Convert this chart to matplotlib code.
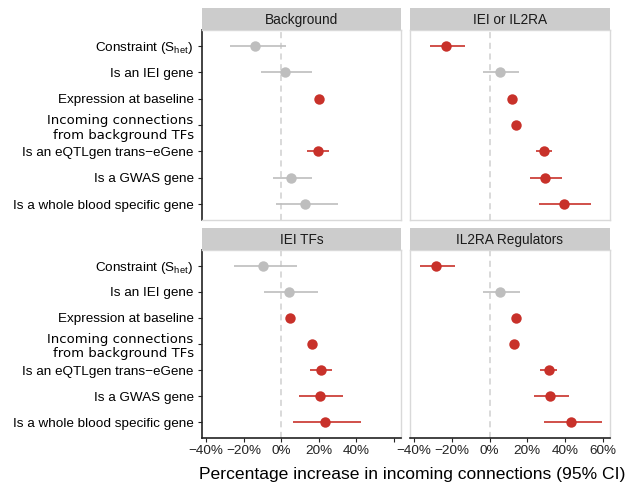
import matplotlib.pyplot as plt
import numpy as np

plt.rcParams['font.family'] = ['Liberation Sans', 'DejaVu Sans']
plt.rcParams['mathtext.default'] = 'regular'

# rows of every facet, top to bottom
categories = ["Constraint (S$_{het}$) ", "Is an IEI gene", "Expression at baseline",
              "Incoming connections\nfrom background TFs", "Is an eQTLgen trans\u2212eGene",
              "Is a GWAS gene", "Is a whole blood specific gene"]
panels = ["Background", "IEI or IL2RA", "IEI TFs", "IL2RA Regulators"]

nan = np.nan
# percentage increase and 95% CI, one set per facet
background_est = [-13.8, 1.9, 20.3, nan, 19.4, 5.3, 12.7]
background_lo = [-27.4, -10.6, 19.4, nan, 13.5, -4.4, -2.6]
background_hi = [2.3, 16.2, 21.2, nan, 25.2, 16.2, 30.3]

iei_il2ra_est = [-23.1, 5.3, 11.9, 13.8, 28.6, 29.2, 39.3]
iei_il2ra_lo = [-31.8, -3.5, 11.0, 12.9, 24.4, 21.2, 26.2]
iei_il2ra_hi = [-13.3, 15.4, 12.8, 14.7, 33.1, 38.4, 53.9]

iei_tfs_est = [-9.7, 4.4, 4.9, 16.4, 21.2, 20.8, 23.3]
iei_tfs_lo = [-25.1, -9.2, 4.0, 15.4, 15.3, 9.3, 6.1]
iei_tfs_hi = [8.5, 19.4, 5.8, 17.4, 27.3, 33.1, 42.3]

il2ra_reg_est = [-28.3, 5.7, 14.2, 13.1, 31.3, 32.2, 43.3]
il2ra_reg_lo = [-37.1, -3.7, 13.3, 12.2, 26.9, 23.3, 29.0]
il2ra_reg_hi = [-18.2, 16.3, 15.1, 14.0, 35.7, 41.9, 59.3]

xticks = [-40, -20, 0, 20, 40, 60]

data = [(background_est, background_lo, background_hi),
        (iei_il2ra_est, iei_il2ra_lo, iei_il2ra_hi),
        (iei_tfs_est, iei_tfs_lo, iei_tfs_hi),
        (il2ra_reg_est, il2ra_reg_lo, il2ra_reg_hi)]

red = '#C8312A'
grey = '#BEBEBE'
border = '#D9D9D9'

fig = plt.figure(figsize=(6.32, 4.84), dpi=100)
W, H = 632, 484

# panel boxes in pixels: (left, top, right, bottom)
boxes = [(202, 30, 401, 220), (410, 30, 610, 220),
         (202, 250, 401, 438), (410, 250, 610, 438)]
strip_h = 22

y = np.arange(len(categories))
for i, (name, (est, lo, hi)) in enumerate(zip(panels, data)):
    l, t, r, b = boxes[i]
    ax = fig.add_axes([l / W, (H - b) / H, (r - l) / W, (b - t) / H])
    est = np.array(est); lo = np.array(lo); hi = np.array(hi)
    sig = (lo > 0) | (hi < 0)
    cols = [red if s else grey for s in sig]

    ax.axvline(0, color='#D0D0D0', lw=1.1, ls=(0, (4, 3)), zorder=1)
    for k in range(len(y)):
        if np.isnan(est[k]):
            continue
        ax.plot([lo[k], hi[k]], [y[k], y[k]], color=cols[k], lw=1.2, zorder=2,
                solid_capstyle='butt')
        ax.plot(est[k], y[k], 'o', color=cols[k], ms=7.5, mec='none', zorder=3)

    ax.set_xlim(-42.2, 63.8)
    ax.set_ylim(6.6, -0.6)
    ax.set_yticks(y)
    ax.set_xticks(xticks)
    for s in ax.spines.values():
        s.set_color(border)
        s.set_linewidth(1.0)

    left_col = i % 2 == 0
    bottom_row = i >= 2
    if left_col:
        ax.set_yticklabels(categories, fontsize=9.7, color='black')
        ax.get_yticklabels()[3].set_family('DejaVu Sans')
        ax.get_yticklabels()[3].set_fontsize(9.5)
        ax.spines['left'].set_color('#222222')
        ax.spines['left'].set_linewidth(1.2)
        ax.tick_params(axis='y', length=3, color='#222222', pad=3)
    else:
        ax.tick_params(axis='y', left=False, labelleft=False)
    if bottom_row:
        labels = ['\u221240%', '\u221220%', '0%', '20%', '40%', '60%']
        if left_col:
            labels[-1] = ''
        ax.set_xticklabels(labels, fontsize=9.7, color='#222222')
        ax.spines['bottom'].set_color('#222222')
        ax.spines['bottom'].set_linewidth(1.2)
        ax.tick_params(axis='x', length=3, color='#222222', pad=2)
    else:
        ax.tick_params(axis='x', bottom=False, labelbottom=False)

    # facet strip
    sax = fig.add_axes([l / W, (H - t) / H, (r - l) / W, strip_h / H])
    sax.set_facecolor('#CCCCCC')
    sax.set_xticks([]); sax.set_yticks([])
    for s in sax.spines.values():
        s.set_visible(False)
    sax.text(0.5, 0.45, name, ha='center', va='center', fontsize=9.8,
             color='#1A1A1A', transform=sax.transAxes)

fig.text(412 / W, (H - 475) / H, 'Percentage increase in incoming connections (95% CI)',
         ha='center', va='center', fontsize=12.6, color='black')

plt.savefig('out.png', dpi=100)
plt.close()
